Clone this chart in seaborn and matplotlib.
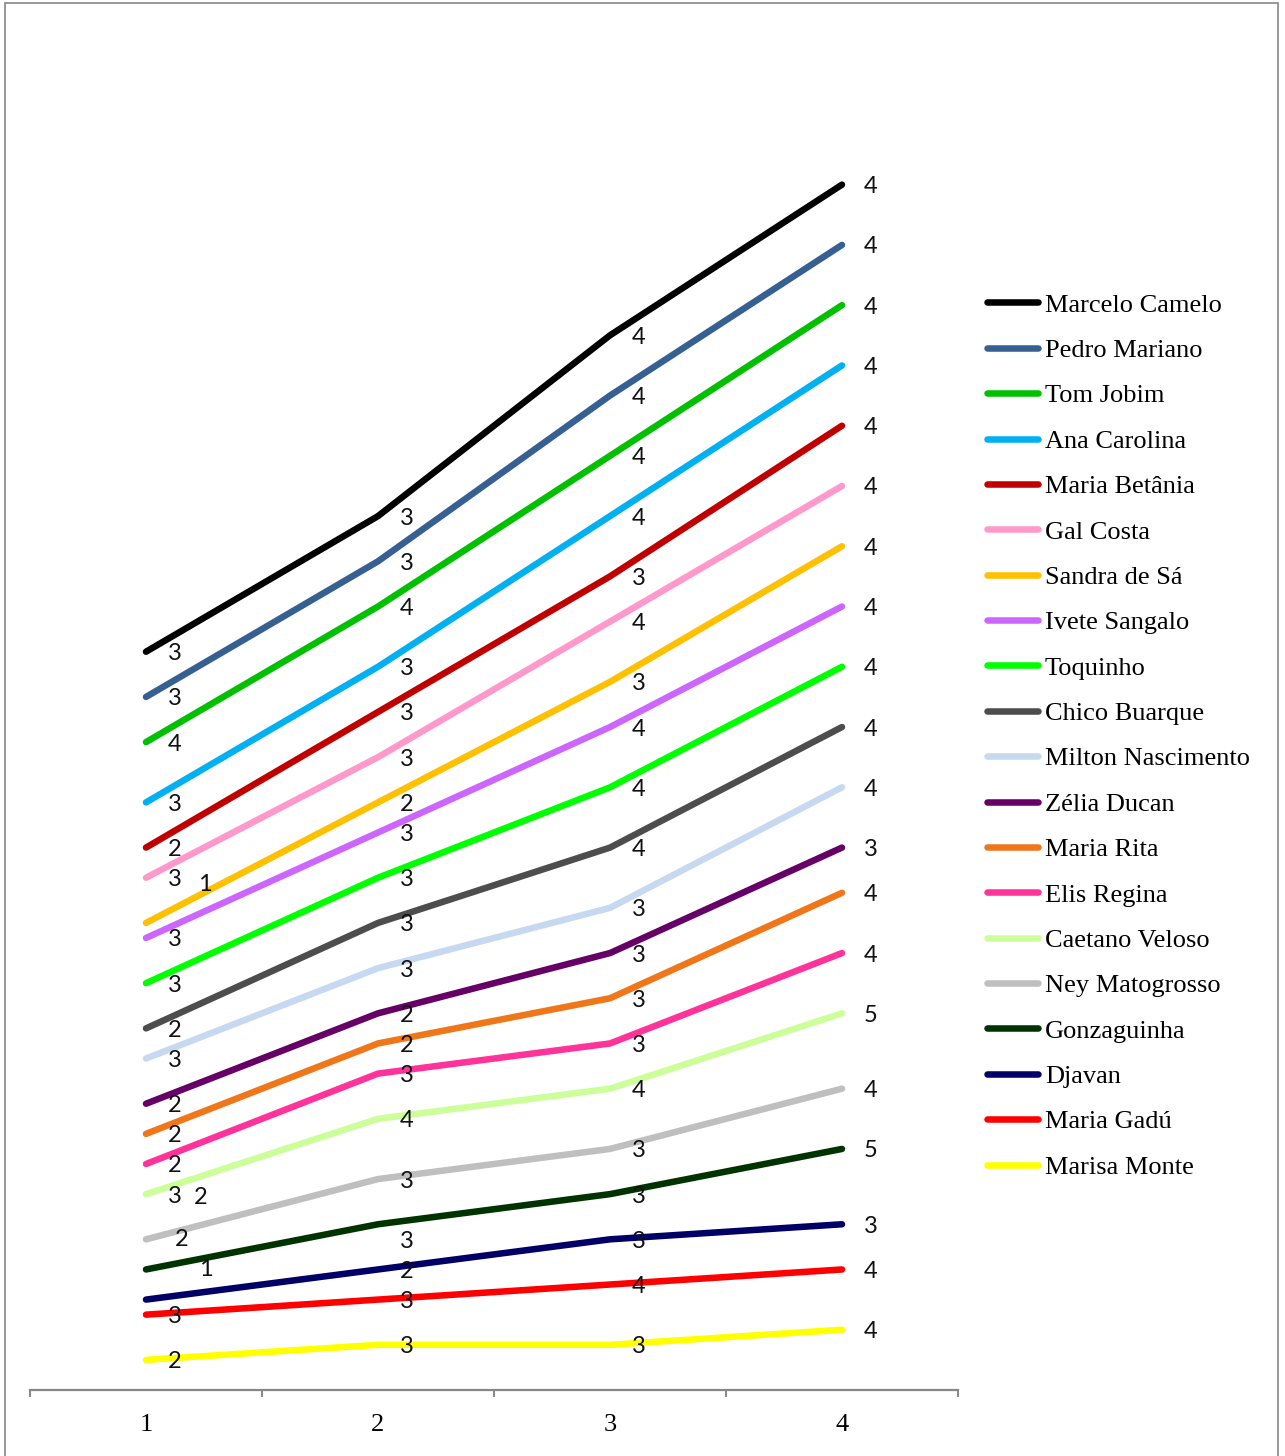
import numpy as np
import pandas as pd
import matplotlib
matplotlib.use("Agg")
import matplotlib.pyplot as plt
import seaborn as sns
from matplotlib.lines import Line2D
from matplotlib.patches import Rectangle

# Series listed top of the stack first (legend order)
artists = [
    "Marcelo Camelo", "Pedro Mariano", "Tom Jobim", "Ana Carolina",
    "Maria Betânia", "Gal Costa", "Sandra de Sá", "Ivete Sangalo",
    "Toquinho", "Chico Buarque", "Milton Nascimento", "Zélia Ducan",
    "Maria Rita", "Elis Regina", "Caetano Veloso", "Ney Matogrosso",
    "Gonzaguinha", "Djavan", "Maria Gadú", "Marisa Monte",
]
periods = ["1", "2", "3", "4"]

marcelo_camelo = [3, 3, 4, 4]
pedro_mariano = [3, 3, 4, 4]
tom_jobim = [4, 4, 4, 4]
ana_carolina = [3, 3, 4, 4]
maria_betania = [2, 3, 3, 4]
gal_costa = [3, 3, 4, 4]
sandra_de_sa = [1, 2, 3, 4]
ivete_sangalo = [3, 3, 4, 4]
toquinho = [3, 3, 4, 4]
chico_buarque = [2, 3, 4, 4]
milton_nascimento = [3, 3, 3, 4]
zelia_ducan = [2, 2, 3, 3]
maria_rita = [2, 2, 3, 4]
elis_regina = [2, 3, 3, 4]
caetano_veloso = [3, 4, 4, 5]
ney_matogrosso = [2, 3, 3, 4]
gonzaguinha = [2, 3, 3, 5]
djavan = [1, 2, 3, 3]
maria_gadu = [3, 3, 4, 4]
marisa_monte = [2, 3, 3, 4]

series = [
    marcelo_camelo, pedro_mariano, tom_jobim, ana_carolina, maria_betania,
    gal_costa, sandra_de_sa, ivete_sangalo, toquinho, chico_buarque,
    milton_nascimento, zelia_ducan, maria_rita, elis_regina, caetano_veloso,
    ney_matogrosso, gonzaguinha, djavan, maria_gadu, marisa_monte,
]

colors = [
    "#000000", "#376092", "#00C000", "#00B0F0", "#C00000",
    "#FF99CC", "#FFC000", "#CC66FF", "#00FF00", "#4D4D4D",
    "#C6D9F1", "#660066", "#F0761A", "#FF3399", "#CCFF99",
    "#BFBFBF", "#003300", "#000066", "#FF0000", "#FFFF00",
]
palette = dict(zip(artists, colors))

# Stacked lines: the last artist sits at the bottom of the stack
vals = np.array(series)
cum = np.cumsum(vals[::-1], axis=0)[::-1]

rows = []
for name, v, c in zip(artists, vals, cum):
    for i in range(len(periods)):
        rows.append({"artist": name, "pos": i, "value": v[i], "total": c[i]})
df = pd.DataFrame(rows)

sns.set_theme(style="white", rc={"text.color": "black",
                                 "xtick.color": "black"})
plt.rcParams["font.family"] = ["DejaVu Sans"]

fig = plt.figure(figsize=(12.85, 14.56), dpi=100)
ax = fig.add_axes([30 / 1285, 1 - 1390 / 1456, 928 / 1285, 1350 / 1456])

sns.lineplot(
    data=df, x="pos", y="total", hue="artist", hue_order=artists[::-1],
    palette=palette, linewidth=4.7, legend=False, ax=ax, sort=False,
    estimator=None, solid_capstyle="round",
)

# Label offsets in pixels; a few labels near the first point were nudged
default_off = (29, -2)
special_off = {
    ("Sandra de Sá", 0): (59, 38),
    ("Ney Matogrosso", 0): (55, 42),
    ("Gonzaguinha", 0): (36, 30),
    ("Djavan", 0): (60, 30),
    ("Gonzaguinha", 1): (29, -17),
}
for _, r in df.iterrows():
    off = special_off.get((r["artist"], int(r["pos"])), default_off)
    ax.annotate(
        str(int(r["value"])), (r["pos"], r["total"]), xytext=off,
        textcoords="offset pixels", ha="center", va="center",
        fontsize=17, fontfamily="Lato", color="#111111",
    )

ax.set_xlim(-0.5, 3.5)
ax.set_ylim(0, 89.6)
ax.set_xlabel("")
ax.set_ylabel("")
ax.set_yticks([])
for s in ("left", "right", "top"):
    ax.spines[s].set_visible(False)
ax.spines["bottom"].set_color("#868686")
ax.spines["bottom"].set_linewidth(1.6)

ax.set_xticks(range(len(periods)))
ax.set_xticklabels(periods, fontfamily="Liberation Serif", fontsize=19,
                   color="black")
ax.set_xticks(np.arange(-0.5, len(periods), 1.0), minor=True)
ax.tick_params(axis="x", which="major", bottom=True, length=0, pad=17)
ax.tick_params(axis="x", which="minor", bottom=True, length=5,
               width=1.4, color="#868686", direction="out")
ax.patch.set_alpha(0)

handles = [Line2D([], [], color=c, lw=4.7, solid_capstyle="round")
           for c in colors]
fig.legend(
    handles, artists, loc="center left",
    bbox_to_anchor=(987 / 1285, 1 - 736 / 1456), frameon=False,
    borderpad=0, borderaxespad=0, handlelength=1.95, handletextpad=0.25,
    labelspacing=0.83, labelcolor="black",
    prop={"family": "Liberation Serif", "size": 19},
)

fig.add_artist(Rectangle(
    (5 / 1285, -0.05), (1278 - 5) / 1285, 1 - 3 / 1456 + 0.05,
    transform=fig.transFigure, fill=False, edgecolor="#868686", lw=1.2,
))

fig.savefig("out.png", dpi=100)
